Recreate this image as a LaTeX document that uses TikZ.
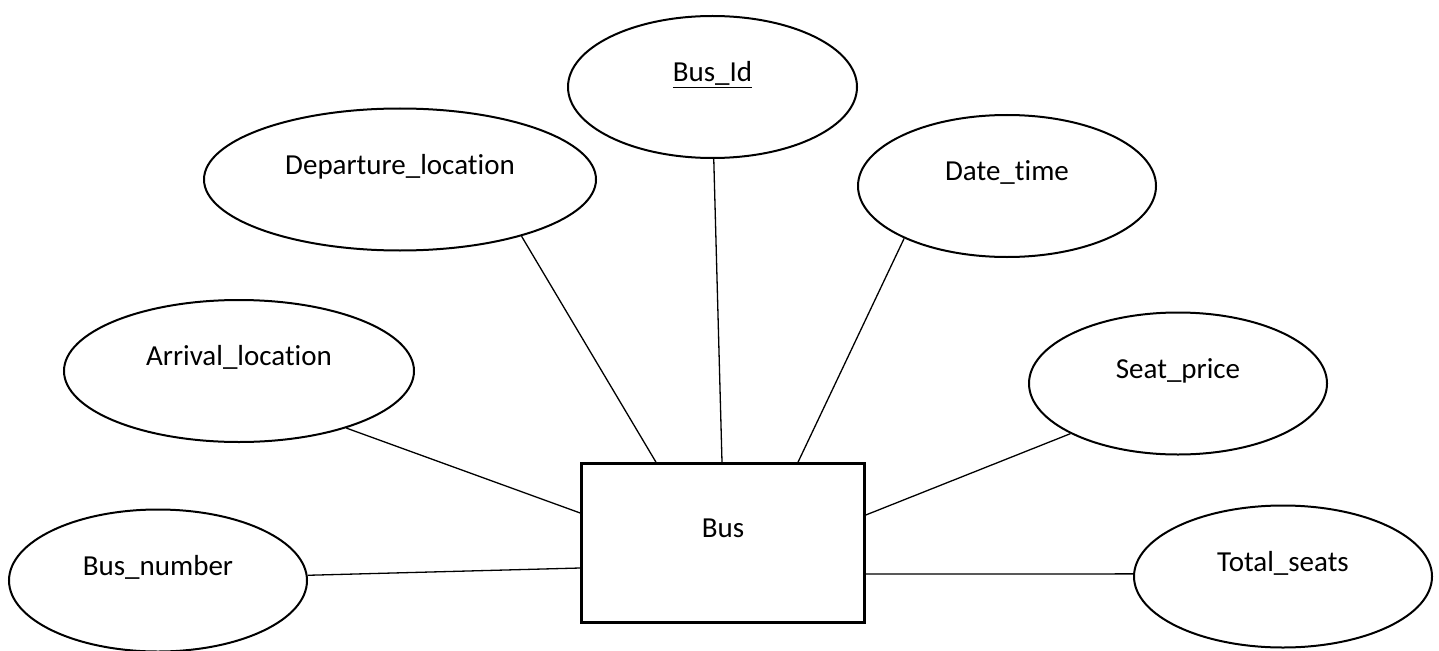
\documentclass[tikz,border=0pt]{standalone}
\usepackage{fontspec}
\setmainfont[Ligatures=NoCommon]{Carlito}
\usetikzlibrary{shapes.geometric}
\begin{document}
\begin{tikzpicture}[x=1pt,y=-1pt,font=\fontsize{29}{34}\selectfont,
    attr/.style={ellipse,draw,line width=2pt,minimum width=298pt,minimum height=142pt,inner sep=0pt,text height=20pt,text depth=31pt},
    entity/.style={rectangle,draw,line width=2.6pt,minimum width=283pt,minimum height=159pt,inner sep=0pt,text height=20pt,text depth=31pt},
    link/.style={line width=1.3pt}]
                \useasboundingbox (0,0) rectangle (1439,650);
                \node [entity] (bus) at (723,543) {Bus};
                \node [attr,minimum width=289pt] (busid) at (712.5,87) {\underline{Bus\_Id}};
                \node [attr,minimum width=392pt] (dep) at (400,179.5) {Departure\_location};
                \node [attr] (date) at (1007,186) {Date\_time};
                \node [attr,minimum width=350pt] (arr) at (239,371) {Arrival\_location};
                \node [attr] (price) at (1178,383.5) {Seat\_price};
                \node [attr] (number) at (158,580.5) {Bus\_number};
                \node [attr] (seats) at (1283,576.5) {Total\_seats};
                \path [link] (dep.-25) edge ([xshift=-67pt]bus.north);
                \path [link] (busid.-89) edge ([xshift=-1pt]bus.north);
                \path [link] (date.-153) edge ([xshift=75pt]bus.north);
                \path [link] (arr.-28) edge ([yshift=30pt]bus.west);
                \path [link] (price.-155) edge ([yshift=28pt]bus.east);
                \path [link] (number.2) edge ([yshift=-25pt]bus.west);
                \path [link] ([yshift=-31pt]bus.east) edge (seats.179);
            \end{tikzpicture}
\end{document}
